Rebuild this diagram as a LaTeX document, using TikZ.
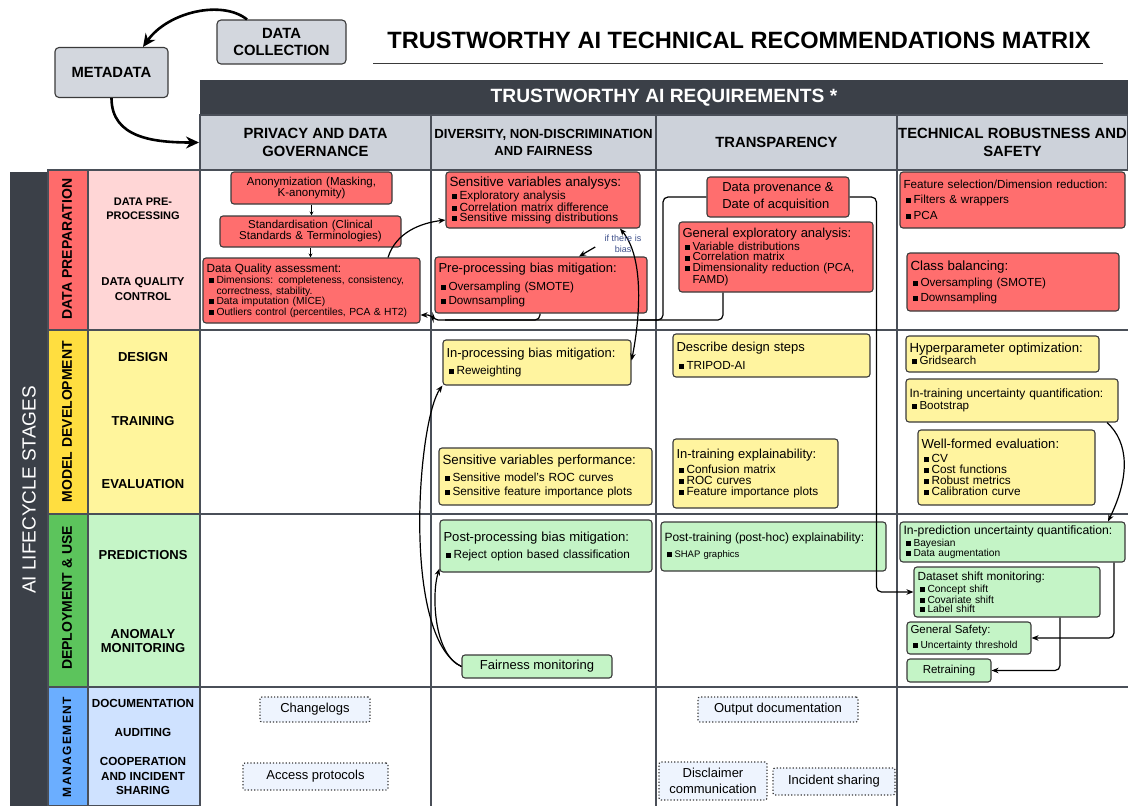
\documentclass[tikz,border=0pt]{standalone}
\usepackage{fontspec}
\setmainfont{Liberation Sans}
\newfontfamily\spacedfont[LetterSpace=12]{Liberation Sans}
\usetikzlibrary{arrows.meta}

\definecolor{edge}{HTML}{3A3A3A}
\definecolor{gridc}{HTML}{4A4F58}
\definecolor{darkbar}{HTML}{3B4048}
\definecolor{headgray}{HTML}{CDD2DA}
\definecolor{metagray}{HTML}{D3D7DE}
\definecolor{redbox}{HTML}{FF6E6E}
\definecolor{stagered}{HTML}{FF6B6B}
\definecolor{subred}{HTML}{FFD6D6}
\definecolor{stageyel}{HTML}{FFDE40}
\definecolor{subyel}{HTML}{FFF59C}
\definecolor{yelbox}{HTML}{FFF49F}
\definecolor{stagegrn}{HTML}{5CC45C}
\definecolor{subgrn}{HTML}{C5F5C7}
\definecolor{grnbox}{HTML}{C4F4C6}
\definecolor{stageblu}{HTML}{6BAEFF}
\definecolor{subblu}{HTML}{CFE2FF}
\definecolor{mgmtbox}{HTML}{EEF4FE}
\definecolor{biasblue}{HTML}{3D4F8A}

\lineskiplimit=-50pt
\lineskip=0pt
\newcommand{\bsq}{\hspace*{2pt}\rule[0.4pt]{5pt}{5pt}\hspace{3pt}}
\newcommand{\hd}[2]{{\fontsize{#1}{#1}\selectfont #2}}

\tikzset{
  fnt/.style 2 args={font=\fontsize{#1}{#2}\selectfont},
  sz/.code 2 args={\pgfmathsetmacro\boxtw{#1-7}%
    \edef\boxtmp{\noexpand\tikzset{minimum width=#1pt,minimum height=#2pt,text width=\boxtw pt}}\boxtmp},
  box/.style={draw=edge, line width=1.1pt, rounded corners=3pt, inner xsep=3.5pt, inner ysep=1pt, align=left},
  rbox/.style={box, fill=redbox},
  ybox/.style={box, fill=yelbox},
  gbox/.style={box, fill=grnbox},
  mbox/.style={draw=edge, dotted, line width=1.2pt, fill=mgmtbox, rounded corners=2pt, align=center, fnt={13}{16}},
  metabox/.style={draw=edge, line width=1.1pt, fill=metagray, rounded corners=4pt, align=center, font=\fontsize{14.8}{17}\selectfont\bfseries},
  headcell/.style={draw=gridc, line width=2pt, fill=headgray, inner sep=0pt, align=center, font=\fontsize{14.8}{18}\selectfont\bfseries},
  gridline/.style={draw=gridc, line width=2pt},
  stagelab/.style={rotate=90, font=\fontsize{14}{14}\selectfont\bfseries},
  sublab/.style={align=center, font=\fontsize{#1}{14.5}\selectfont\bfseries},
  sublab/.default=13,
  arr/.style={-{Stealth[length=7pt,width=5.5pt]}, line width=1.2pt},
  dblarr/.style={{Stealth[length=7pt,width=5.5pt]}-{Stealth[length=7pt,width=5.5pt]}, line width=1.2pt},
  plain/.style={line width=1.2pt},
  smallarr/.style={-{Stealth[length=4pt,width=4pt]}, line width=0.8pt},
  bigarr/.style={-{Stealth[length=13pt,width=12pt]}, line width=2.6pt}
}

\begin{document}
\begin{tikzpicture}[x=1pt, y=-1pt]
\useasboundingbox (0,0) rectangle (1128,806);

% title and data sources
\node[font=\fontsize{23.6}{24}\selectfont\bfseries] (title) at (739,40) {TRUSTWORTHY AI TECHNICAL RECOMMENDATIONS MATRIX};
\draw[edge, line width=1pt] (373,63) -- (1103,63);
\node[metabox, minimum width=113pt, minimum height=50pt] (meta) at (111.5,72.5) {METADATA};
\node[metabox, minimum width=129pt, minimum height=44pt] (dc) at (281.5,42) {DATA\\COLLECTION};

% lifecycle stages
\fill[darkbar] (10,172) rectangle (48,806);
\node[rotate=90, text=white, font=\fontsize{19}{19}\selectfont] (stages) at (29,490) {AI LIFECYCLE STAGES};
\draw[gridline, fill=stagered] (48,170) rectangle (88,330);
\draw[gridline, fill=stageyel] (48,330) rectangle (88,514);
\draw[gridline, fill=stagegrn] (48,514) rectangle (88,687);
\draw[gridline, fill=stageblu] (48,687) rectangle (88,806);
\draw[gridline, fill=subred] (88,170) rectangle (200,330);
\draw[gridline, fill=subyel] (88,330) rectangle (200,514);
\draw[gridline, fill=subgrn] (88,514) rectangle (200,687);
\draw[gridline, fill=subblu] (88,687) rectangle (200,806);
\node[stagelab] (lprep) at (67,249) {DATA PREPARATION};
\node[stagelab] (lmod) at (67,421.5) {MODEL DEVELOPMENT};
\node[stagelab] (ldep) at (67,598) {DEPLOYMENT \& USE};
\node[rotate=90, font=\fontsize{12}{12}\spacedfont\bfseries] (lman) at (67,747) {MANAGEMENT};

\node[sublab=11] (ldpp) at (143,209) {DATA PRE-\\PROCESSING};
\node[sublab=11.4] (ldqc) at (143,289) {DATA QUALITY\\CONTROL};
\node[sublab] (ldes) at (143,357) {DESIGN};
\node[sublab] (ltrn) at (143,421) {TRAINING};
\node[sublab] (leva) at (143,484) {EVALUATION};
\node[sublab] (lpred) at (143,555) {PREDICTIONS};
\node[sublab] (lanom) at (143,641) {ANOMALY\\MONITORING};
\node[sublab=11.7] (ldoc) at (143,703) {DOCUMENTATION};
\node[sublab=11.7] (laud) at (143,732) {AUDITING};
\node[sublab=11.7] (lcoop) at (143,776) {COOPERATION\\AND INCIDENT\\SHARING};

% requirements header
\fill[darkbar] (200,80) rectangle (1128,115);
\node[text=white, font=\fontsize{19.2}{19}\selectfont\bfseries] (hreq) at (664,97.5) {TRUSTWORTHY AI REQUIREMENTS *};
\node[headcell, minimum width=231pt, minimum height=55pt] (hpriv) at (315.5,142.5) {PRIVACY AND DATA\\GOVERNANCE};
\node[headcell, minimum width=225pt, minimum height=55pt, font=\fontsize{13.2}{17}\selectfont\bfseries] (hdiv) at (543.5,142.5) {DIVERSITY, NON-DISCRIMINATION\\AND FAIRNESS};
\node[headcell, minimum width=241pt, minimum height=55pt] (htra) at (776.5,142.5) {TRANSPARENCY};
\node[headcell, minimum width=231pt, minimum height=55pt] (htec) at (1012.5,142.5) {TECHNICAL ROBUSTNESS AND\\SAFETY};

% grid
\draw[gridline] (200,170) -- (200,806);
\draw[gridline] (431,170) -- (431,806);
\draw[gridline] (656,170) -- (656,806);
\draw[gridline] (897,170) -- (897,806);
\draw[gridline] (200,330) -- (1128,330);
\draw[gridline] (200,514) -- (1128,514);
\draw[gridline] (200,687) -- (1128,687);

% data preparation
\node[rbox, sz={161}{32}, align=center, fnt={11.5}{11}] (anon) at (311.5,188) {Anonymization (Masking,\\K-anonymity)};
\node[rbox, sz={181}{31}, align=center, fnt={11.5}{11}] (std) at (310.5,231.5) {Standardisation (Clinical\\Standards \& Terminologies)};
\node[rbox, sz={217}{65}, fnt={10.3}{9.6}] (dq) at (311.5,290.5) {\hd{11.8}{Data Quality assessment:}\\[0.5pt]
  \bsq Dimensions: completeness, consistency,\\
  \hspace*{10pt}correctness, stability.\\
  \bsq Data imputation (MICE)\\
  \bsq Outliers control (percentiles, PCA \& HT2)};
\node[rbox, sz={194}{56}, fnt={11.8}{9.7}] (sva) at (543,200) {\hd{13.4}{Sensitive variables analysys:}\\[1pt]
  \bsq Exploratory analysis\\ \bsq Correlation matrix difference\\ \bsq Sensitive missing distributions};
\node[rbox, sz={212}{56}, fnt={11.7}{14}] (ppb) at (541,285) {\hd{13}{Pre-processing bias mitigation:}\\[4pt]
  \bsq Oversampling (SMOTE)\\ \bsq Downsampling};
\node[rbox, minimum width=142pt, minimum height=40pt, fnt={13}{17}] (dpv) at (778,197) {Data provenance \&\\Date of acquisition};
\node[rbox, sz={194}{70}, fnt={11.6}{10.7}] (gea) at (776,257) {\hd{13}{General exploratory analysis:}\\[0.5pt]
  \bsq Variable distributions\\ \bsq Correlation matrix\\ \bsq Dimensionality reduction (PCA,\\ \hspace*{10pt}FAMD)};
\node[rbox, sz={225}{56}, fnt={11.7}{16}] (fsd) at (1012.5,200) {\hd{11.7}{Feature selection/Dimension reduction:}\\[-1pt]
  \bsq Filters \& wrappers\\ \bsq PCA};
\node[rbox, sz={212}{58}, fnt={11.7}{15}] (cb) at (1013,282) {\hd{13.3}{Class balancing:}\\[1pt]
  \bsq Oversampling (SMOTE)\\ \bsq Downsampling};

% model development
\node[ybox, sz={188}{45}, fnt={11.8}{14}] (ipb) at (537,362.5) {\hd{13}{In-processing bias mitigation:}\\[3pt] \bsq Reweighting};
\node[ybox, sz={213}{57}, fnt={11.8}{14}] (svp) at (545.5,476.5) {\hd{13.3}{Sensitive variables performance:}\\[3pt]
  \bsq Sensitive model's ROC curves\\ \bsq Sensitive feature importance plots};
\node[ybox, sz={197}{43}, fnt={11.7}{14}] (dds) at (771.5,355.5) {\hd{13}{Describe design steps}\\[4pt] \bsq TRIPOD-AI};
\node[ybox, sz={165}{69}, fnt={11.8}{11}] (ite) at (755.5,473.5) {\hd{13}{In-training explainability:}\\[3pt]
  \bsq Confusion matrix\\ \bsq ROC curves\\ \bsq Feature importance plots};
\node[ybox, sz={193}{36}, fnt={11.6}{12}] (hpo) at (1002.5,354) {\hd{13.2}{Hyperparameter optimization:}\\ \bsq Gridsearch};
\node[ybox, sz={212}{43}, fnt={11.6}{12}] (itu) at (1012,400.5) {\hd{12}{In-training uncertainty quantification:}\\ \bsq Bootstrap};
\node[ybox, sz={177}{75}, fnt={11.8}{11}] (wfe) at (1006.5,467.5) {\hd{13.1}{Well-formed evaluation:}\\[3pt]
  \bsq CV\\ \bsq Cost functions\\ \bsq Robust metrics\\ \bsq Calibration curve};

% deployment and use
\node[gbox, sz={212}{52}, fnt={11.8}{14}] (ppbm) at (546,546) {\hd{13.1}{Post-processing bias mitigation:}\\[3pt] \bsq Reject option based classification};
\node[gbox, minimum width=150pt, minimum height=23pt, fnt={13}{15}] (fm) at (537,666.5) {Fairness monitoring};
\node[gbox, sz={225}{49}, fnt={9.5}{13}] (pte) at (773.5,546.5) {\hd{12}{Post-training (post-hoc) explainability:}\\[3pt] \bsq SHAP graphics};
\node[gbox, sz={225}{40}, fnt={10.2}{10}] (ipu) at (1012.5,542) {\hd{12.2}{In-prediction uncertainty quantification:}\\[2pt]
  \bsq Bayesian\\ \bsq Data augmentation};
\node[gbox, sz={186}{50}, fnt={10.3}{8.7}] (dsm) at (1007,592) {\hd{11.8}{Dataset shift monitoring:}\\[1.5pt]
  \bsq Concept shift\\ \bsq Covariate shift\\ \bsq Label shift};
\node[gbox, sz={124}{32}, fnt={10.2}{13}] (gs) at (969,638) {\hd{11.5}{General Safety:}\\[2pt] \bsq Uncertainty threshold};
\node[gbox, minimum width=84pt, minimum height=23pt, fnt={11.5}{13}] (rt) at (949,670.5) {Retraining};

% management
\node[mbox, minimum width=110pt, minimum height=25pt] (chg) at (315,709.5) {Changelogs};
\node[mbox, minimum width=145pt, minimum height=27pt] (acc) at (315.5,776.5) {Access protocols};
\node[mbox, minimum width=160pt, minimum height=25pt] (outd) at (778,709.5) {Output documentation};
\node[mbox, minimum width=108pt, minimum height=38pt] (dis) at (713,781) {Disclaimer\\communication};
\node[mbox, minimum width=122pt, minimum height=27pt] (inc) at (834,781.5) {Incident sharing};

% connectors
\draw[bigarr] ([xshift=-34.5pt]dc.north) .. controls +(-25,-20) and +(25,-35) .. ([xshift=31.5pt]meta.north);
\draw[bigarr] (meta.south) .. controls +(0,40) and +(-45,0) .. (hpriv.west);
\draw[smallarr] (anon.south) -- (anon.south |- std.north);
\draw[smallarr] (std.south) -- (std.south |- dq.north);
\draw[arr] ([xshift=76.5pt]dq.north) .. controls +(8,-25) and +(-25,3) .. ([yshift=-20pt]sva.west);
\draw[arr, rounded corners=5pt] ([xshift=-53pt]gea.south) |- (433,320) |- ([yshift=-24.5pt]dq.east);
\draw[plain, rounded corners=5pt] ([xshift=-1pt]ppb.south) |- (445,320);
\draw[plain, rounded corners=5pt] (dpv.west) -| (663,320) -- (640,320);
\draw[arr, rounded corners=5pt] (dpv.east) -| ([xshift=-37pt]dsm.west) -- (dsm.west);
\draw[dblarr] ([xshift=77pt]sva.south) .. controls +(25,30) and +(8,-40) .. ([yshift=2pt]ipb.east);
\node[font=\fontsize{9}{11}\selectfont, text=biasblue, align=center] (bias) at (623,244) {if there is\\bias};
\draw[arr] ([xshift=-6pt,yshift=-3pt]bias.west) -- ([xshift=38pt]ppb.north);
\draw[arr] (fm.west) .. controls +(-28,-12) and +(-8,25) .. ([yshift=4pt]ppbm.south west);
\draw[arr] (fm.west) .. controls +(-60,-30) and +(-25,35) .. (ipb.south west);
\draw[arr] ([xshift=95pt]itu.south) .. controls +(22,20) and +(22,-45) .. ([xshift=95.5pt]ipu.north);
\draw[arr, rounded corners=5pt] ([xshift=101.5pt]ipu.south) |- (gs.east);
\draw[arr, rounded corners=5pt] ([xshift=53pt]dsm.south) |- (rt.east);
\end{tikzpicture}
\end{document}
